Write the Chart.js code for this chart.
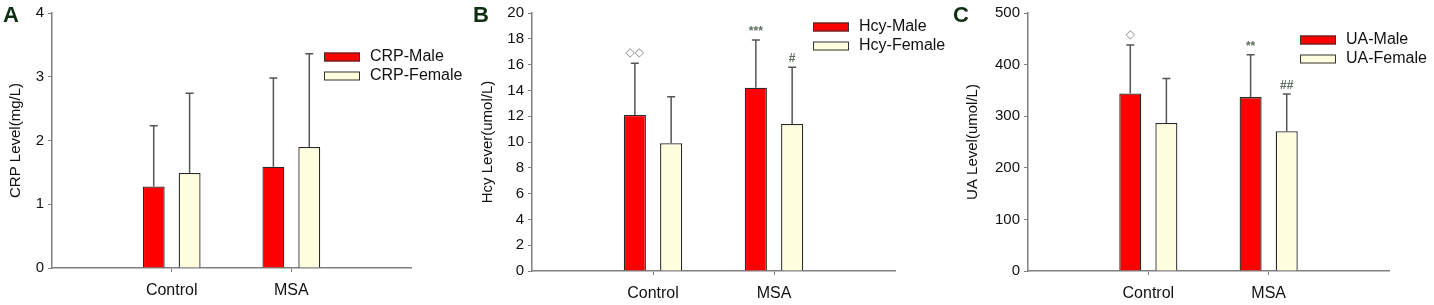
<!DOCTYPE html>
<html>
<head>
<meta charset="utf-8">
<script src="https://cdn.jsdelivr.net/npm/chart.js@4.4.1/dist/chart.umd.min.js"></script>
<style>
  body { margin: 0; background: #fff; }
  #wrap { position: relative; width: 1434px; height: 305px; }
  .panel { position: absolute; top: 0; }
</style>
</head>
<body>
<div id="wrap">
  <canvas id="chartA" class="panel" style="left:0px" width="470" height="305"></canvas>
  <canvas id="chartB" class="panel" style="left:470px" width="480" height="305"></canvas>
  <canvas id="chartC" class="panel" style="left:950px" width="484" height="305"></canvas>
</div>
<script>
// groups on the x axis (empty slots at both ends leave the side margins)
const groups = ['Control', 'MSA'];

// CRP (mg/L)
const crpMale = [1.28, 1.59];
const crpMaleSd = [0.95, 1.39];
const crpFemale = [1.49, 1.90];
const crpFemaleSd = [1.25, 1.46];

// Hcy (umol/L)
const hcyMale = [12.1, 14.2];
const hcyMaleSd = [4.0, 3.7];
const hcyFemale = [9.9, 11.4];
const hcyFemaleSd = [3.6, 4.4];
const hcyMaleMarks = ['◇◇', '***'];
const hcyFemaleMarks = ['', '#'];

// UA (umol/L)
const uaMale = [344, 337];
const uaMaleSd = [94, 82];
const uaFemale = [287, 271];
const uaFemaleSd = [86, 72];
const uaMaleMarks = ['◇', '**'];
const uaFemaleMarks = ['', '##'];

// y axis ticks
const crpTicks = [0, 1, 2, 3, 4];
const hcyTicks = [0, 2, 4, 6, 8, 10, 12, 14, 16, 18, 20];
const uaTicks = [0, 100, 200, 300, 400, 500];

const MALE_COLOR = '#ff0000';
const FEMALE_COLOR = '#ffffe0';
const AXIS_COLOR = '#808080';

const pad = arr => [null, ...arr, null];

// error bars + significance marks above the bars
const errorBars = {
  id: 'errorBars',
  afterDatasetsDraw(chart) {
    const ctx = chart.ctx;
    const yScale = chart.scales.y;
    chart.data.datasets.forEach((ds, i) => {
      const meta = chart.getDatasetMeta(i);
      meta.data.forEach((bar, j) => {
        const v = ds.data[j];
        if (v == null) return;
        const top = yScale.getPixelForValue(v + ds.sd[j]);
        ctx.save();
        ctx.strokeStyle = '#555';
        ctx.lineWidth = 1.5;
        ctx.beginPath();
        ctx.moveTo(bar.x, bar.y);
        ctx.lineTo(bar.x, top);
        ctx.moveTo(bar.x - 4, top);
        ctx.lineTo(bar.x + 4, top);
        ctx.stroke();
        const mark = ds.marks ? ds.marks[j] : '';
        if (mark) {
          const isDiamond = mark.includes('◇');
          ctx.fillStyle = isDiamond ? '#8a8a8a' : '#5f6f60';
          ctx.font = isDiamond ? '12px "DejaVu Sans"' : 'bold 12px "Liberation Sans", Arial';
          ctx.textAlign = 'center';
          ctx.textBaseline = 'middle';
          ctx.fillText(mark, bar.x, top - (isDiamond ? 10 : 8));
        }
        ctx.restore();
      });
    });
  }
};

// legend inside the plot + panel letter
const panelDecor = {
  id: 'panelDecor',
  afterDraw(chart, args, opts) {
    const ctx = chart.ctx;
    ctx.save();
    ctx.font = 'bold 22px "Liberation Sans", Arial';
    ctx.fillStyle = '#0f2f12';
    ctx.textAlign = 'left';
    ctx.textBaseline = 'alphabetic';
    ctx.fillText(opts.letter, 3, 22);

    ctx.font = '16px "Liberation Sans", Arial';
    ctx.textBaseline = 'middle';
    chart.data.datasets.forEach((ds, i) => {
      const y = opts.legendY + i * opts.legendGap;
      ctx.fillStyle = ds.backgroundColor;
      ctx.fillRect(opts.legendX, y - 4.5, 36, 9);
      ctx.strokeStyle = '#333';
      ctx.lineWidth = 1;
      ctx.strokeRect(opts.legendX + 0.5, y - 4, 35, 8);
      ctx.fillStyle = '#111';
      ctx.fillText(ds.label, opts.legendX + 46, y);
    });
    ctx.restore();
  }
};

function makePanel(id, p) {
  const labels = ['', ...groups, ''];
  return new Chart(document.getElementById(id), {
    type: 'bar',
    data: {
      labels: labels,
      datasets: [{
        label: p.name + '-Male',
        data: pad(p.male),
        sd: pad(p.maleSd),
        marks: pad(p.maleMarks || []),
        backgroundColor: MALE_COLOR,
        borderColor: '#2a2a2a',
        borderWidth: 1.3
      }, {
        label: p.name + '-Female',
        data: pad(p.female),
        sd: pad(p.femaleSd),
        marks: pad(p.femaleMarks || []),
        backgroundColor: FEMALE_COLOR,
        borderColor: '#2a2a2a',
        borderWidth: 1.3
      }]
    },
    options: {
      responsive: false,
      animation: false,
      categoryPercentage: 0.6,
      barPercentage: 0.61,
      layout: { padding: { left: p.padLeft, right: p.padRight, top: 12, bottom: 0 } },
      plugins: {
        legend: { display: false },
        tooltip: { enabled: false },
        panelDecor: { letter: p.letter, legendX: p.legendX, legendY: p.legendY, legendGap: 19 }
      },
      scales: {
        x: {
          offset: false,
          border: { color: AXIS_COLOR, width: 1.5 },
          grid: {
            offset: false,
            drawOnChartArea: false,
            tickLength: 4,
            tickColor: c => labels[c.index] ? AXIS_COLOR : 'rgba(0,0,0,0)'
          },
          ticks: { color: '#111', font: { size: 16, family: '"Liberation Sans", Arial' }, padding: 9, maxRotation: 0, autoSkip: false },
          afterFit: s => { s.height = p.xHeight; }
        },
        y: {
          min: p.ticks[0],
          max: p.ticks[p.ticks.length - 1],
          afterBuildTicks: s => { s.ticks = p.ticks.map(v => ({ value: v })); },
          border: { color: AXIS_COLOR, width: 1.5 },
          grid: { drawOnChartArea: false, tickLength: 4, tickColor: AXIS_COLOR },
          ticks: { color: '#111', font: { size: 15, family: '"Liberation Sans", Arial' }, padding: 4 },
          title: { display: true, text: p.title, color: '#111', font: { size: 15, family: '"Liberation Sans", Arial' } },
          afterFit: s => { s.width = p.yWidth; }
        }
      }
    },
    plugins: [errorBars, panelDecor]
  });
}

makePanel('chartA', {
  name: 'CRP', letter: 'A', title: 'CRP Level(mg/L)', ticks: crpTicks,
  male: crpMale, maleSd: crpMaleSd, female: crpFemale, femaleSd: crpFemaleSd,
  padLeft: 3, yWidth: 49, padRight: 59, xHeight: 37, legendX: 324, legendY: 57
});

makePanel('chartB', {
  name: 'Hcy', letter: 'B', title: 'Hcy Lever(umol/L)', ticks: hcyTicks,
  male: hcyMale, maleSd: hcyMaleSd, female: hcyFemale, femaleSd: hcyFemaleSd,
  maleMarks: hcyMaleMarks, femaleMarks: hcyFemaleMarks,
  padLeft: 5, yWidth: 57, padRight: 55, xHeight: 34, legendX: 343, legendY: 27
});

makePanel('chartC', {
  name: 'UA', letter: 'C', title: 'UA Level(umol/L)', ticks: uaTicks,
  male: uaMale, maleSd: uaMaleSd, female: uaFemale, femaleSd: uaFemaleSd,
  maleMarks: uaMaleMarks, femaleMarks: uaFemaleMarks,
  padLeft: 10, yWidth: 68, padRight: 45, xHeight: 34, legendX: 350, legendY: 40
});
</script>
</body>
</html>
